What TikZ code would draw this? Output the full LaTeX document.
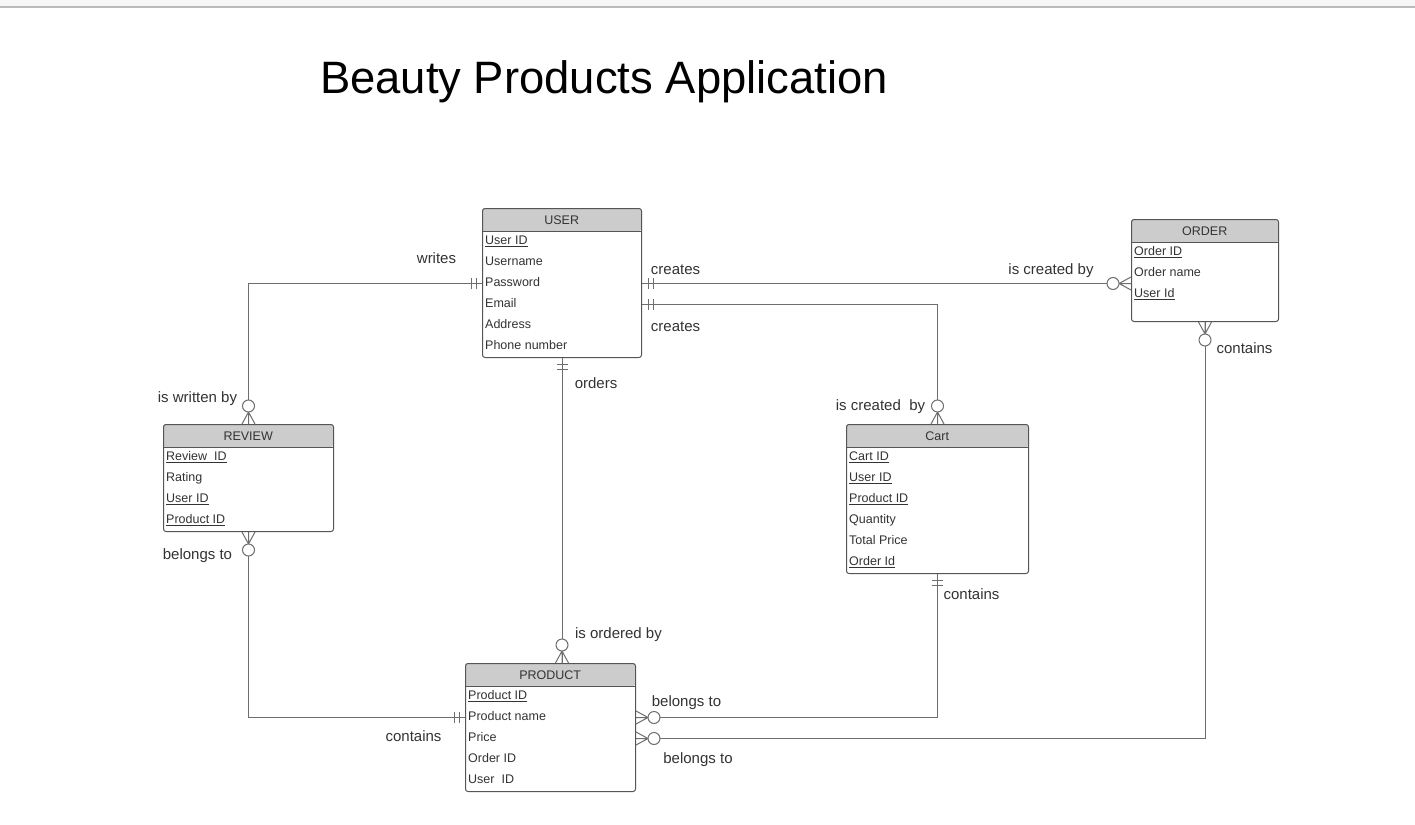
\documentclass[tikz,border=0pt]{standalone}
\usepackage{fontspec}
\setmainfont{Liberation Sans}
\definecolor{txtc}{HTML}{333333}
\definecolor{bordc}{HTML}{555555}
\definecolor{connc}{HTML}{6E6E6E}
\definecolor{hdrc}{HTML}{CCCCCC}
\definecolor{bandc}{HTML}{F6F6F6}
\definecolor{bandl}{HTML}{BABABA}
\tikzset{
  tbl/.style={draw=bordc, line width=1pt, rounded corners=2.5pt, anchor=north west, inner sep=0pt},
  hdr/.style={fill=hdrc, anchor=north west, inner sep=0pt, minimum height=23pt, rounded corners=2.5pt,
    font=\fontsize{12.5}{14}\selectfont, text=txtc},
  hdrline/.style={draw=bordc, line width=1pt},
  row/.style={anchor=west, inner sep=0pt, text height=9pt, text depth=3pt, font=\fontsize{12.5}{14}\selectfont, text=txtc},
  lbl/.style={anchor=base, inner sep=0pt, font=\fontsize{15}{18}\selectfont, text=txtc},
  conn/.style={draw=connc, line width=1pt},
  onlyone/.pic={\draw[connc, line width=1pt] (6,-5.5) -- (6,5.5) (11,-5.5) -- (11,5.5);},
  zeromany/.pic={\draw[connc, line width=1pt] (0,-6.5) -- (12,0) -- (0,6.5) (0,0) -- (12,0);
                 \draw[connc, line width=1pt, fill=white] (18,0) circle (6pt);}
}
\begin{document}
\begin{tikzpicture}[x=1pt,y=-1pt]
\useasboundingbox (0,0) rectangle (1415,824);
\fill[white] (0,0) rectangle (1415,824);
\fill[bandc] (0,0) rectangle (1415,6.5);
\draw[bandl, line width=1.5pt] (0,7) -- (1415,7);

\node[anchor=base, inner sep=0pt, font=\fontsize{45.4}{50}\selectfont, text=black] (title) at (604,94) {Beauty Products Application};

% USER
\node[hdr, minimum width=159pt] (userh) at (482,208) {USER};
\draw[hdrline] (userh.south west) -- (userh.south east);
\node[tbl, minimum width=159pt, minimum height=149pt] (user) at (482,208) {};
\node[row] (u1) at (485,241.5) {\underline{User ID}};
\node[row] (u2) at (485,262.5) {Username};
\node[row] (u3) at (485,283.5) {Password};
\node[row] (u4) at (485,304.5) {Email};
\node[row] (u5) at (485,325.5) {Address};
\node[row] (u6) at (485,346.5) {Phone number};

% ORDER
\node[hdr, minimum width=147pt] (orderh) at (1131,219) {ORDER};
\draw[hdrline] (orderh.south west) -- (orderh.south east);
\node[tbl, minimum width=147pt, minimum height=102pt] (order) at (1131,219) {};
\node[row] (o1) at (1134,252.5) {\underline{Order ID}};
\node[row] (o2) at (1134,273.5) {Order name};
\node[row] (o3) at (1134,294.5) {\underline{User Id}};

% REVIEW
\node[hdr, minimum width=170pt] (reviewh) at (163,424) {REVIEW};
\draw[hdrline] (reviewh.south west) -- (reviewh.south east);
\node[tbl, minimum width=170pt, minimum height=107pt] (review) at (163,424) {};
\node[row] (r1) at (166,457.5) {\underline{Review\ \ ID}};
\node[row] (r2) at (166,478.5) {Rating};
\node[row] (r3) at (166,499.5) {\underline{User ID}};
\node[row] (r4) at (166,520.5) {\underline{Product ID}};

% Cart
\node[hdr, minimum width=182pt] (carth) at (846,424) {Cart};
\draw[hdrline] (carth.south west) -- (carth.south east);
\node[tbl, minimum width=182pt, minimum height=149pt] (cart) at (846,424) {};
\node[row] (c1) at (849,457.5) {\underline{Cart ID}};
\node[row] (c2) at (849,478.5) {\underline{User ID}};
\node[row] (c3) at (849,499.5) {\underline{Product ID}};
\node[row] (c4) at (849,520.5) {Quantity};
\node[row] (c5) at (849,541.5) {Total Price};
\node[row] (c6) at (849,562.5) {\underline{Order Id}};

% PRODUCT
\node[hdr, minimum width=170pt] (producth) at (465,663) {PRODUCT};
\draw[hdrline] (producth.south west) -- (producth.south east);
\node[tbl, minimum width=170pt, minimum height=128pt] (product) at (465,663) {};
\node[row] (p1) at (468,696.5) {\underline{Product ID}};
\node[row] (p2) at (468,717.5) {Product name};
\node[row] (p3) at (468,738.5) {Price};
\node[row] (p4) at (468,759.5) {Order ID};
\node[row] (p5) at (468,780.5) {User\ \ ID};

% connectors
\draw[conn] (user.west |- u3) -| (review.north);
\pic[rotate=180] at (user.west |- u3) {onlyone};
\pic[rotate=90] at (review.north) {zeromany};

\draw[conn] (user.east |- u3) -- (order.west |- u3);
\pic at (user.east |- u3) {onlyone};
\pic[rotate=180] at (order.west |- u3) {zeromany};

\draw[conn] (user.east |- u4) -| (cart.north);
\pic at (user.east |- u4) {onlyone};
\pic[rotate=90] at (cart.north) {zeromany};

\draw[conn] (user.south) -- (user.south |- product.north);
\pic[rotate=-90] at (user.south) {onlyone};
\pic[rotate=90] at (user.south |- product.north) {zeromany};

\draw[conn] (review.south) |- (product.west |- p2);
\pic[rotate=-90] at (review.south) {zeromany};
\pic[rotate=180] at (product.west |- p2) {onlyone};

\draw[conn] (cart.south) |- (product.east |- p2);
\pic[rotate=-90] at (cart.south) {onlyone};
\pic at (product.east |- p2) {zeromany};

\draw[conn] (order.south) |- (product.east |- p3);
\pic[rotate=-90] at (order.south) {zeromany};
\pic at (product.east |- p3) {zeromany};

% labels
\node[lbl] (l1) at (436.5,263) {writes};
\node[lbl] (l2) at (197.5,402) {is written by};
\node[lbl] (l3) at (675.5,274) {creates};
\node[lbl] (l4) at (1051,274) {is created by};
\node[lbl] (l5) at (675.5,331) {creates};
\node[lbl] (l6) at (880.5,410) {is created\ \ by};
\node[lbl] (l7) at (596,388) {orders};
\node[lbl] (l8) at (618.5,638) {is ordered by};
\node[lbl] (l9) at (197.5,559) {belongs to};
\node[lbl] (l10) at (413.5,741) {contains};
\node[lbl] (l11) at (971.5,599) {contains};
\node[lbl] (l12) at (686.5,706) {belongs to};
\node[lbl] (l13) at (1244.5,353) {contains};
\node[lbl] (l14) at (698,763) {belongs to};
\end{tikzpicture}
\end{document}
